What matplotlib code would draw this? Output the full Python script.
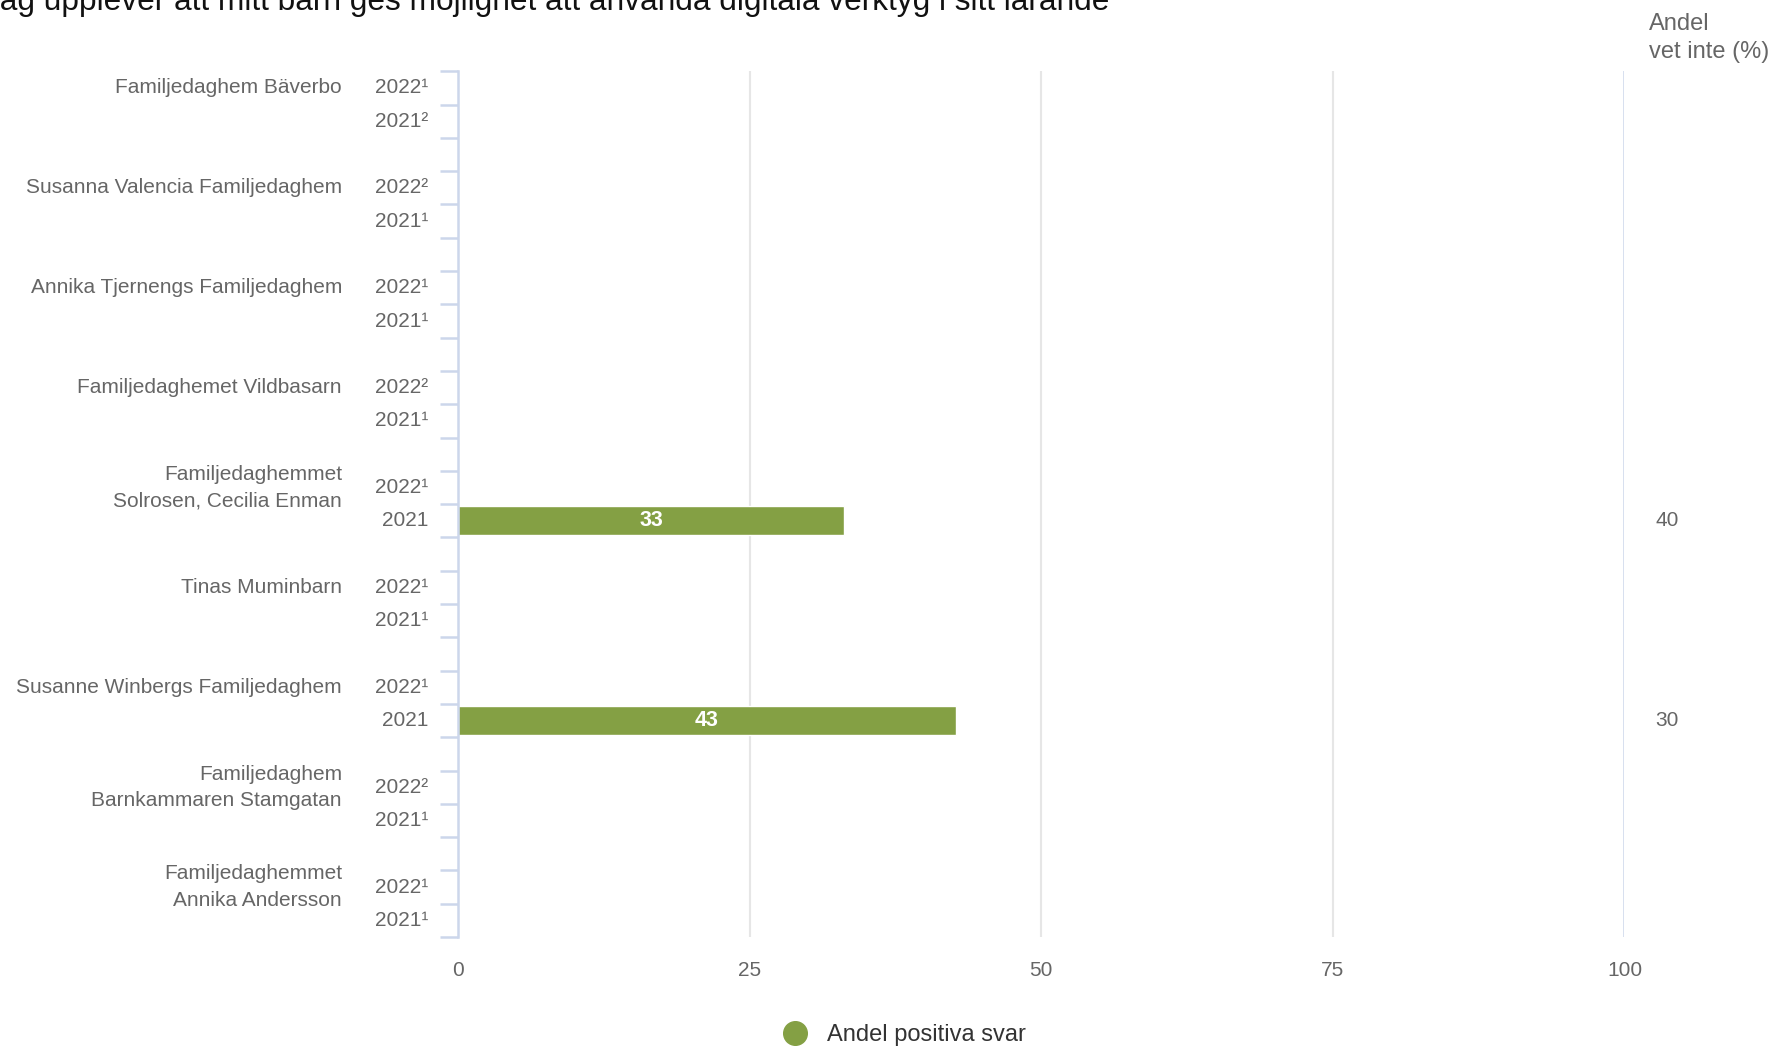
import numpy as np
import matplotlib
matplotlib.use('Agg')
import matplotlib.pyplot as plt
from matplotlib.lines import Line2D

plt.rcParams['font.family'] = ['Liberation Sans', 'DejaVu Sans']

title = 'Jag upplever att mitt barn ges möjlighet att använda digitala verktyg i sitt lärande'
groups = ['Familjedaghem Bäverbo',
          'Susanna Valencia Familjedaghem',
          'Annika Tjernengs Familjedaghem',
          'Familjedaghemet Vildbasarn',
          'Familjedaghemmet\nSolrosen, Cecilia Enman',
          'Tinas Muminbarn',
          'Susanne Winbergs Familjedaghem',
          'Familjedaghem\nBarnkammaren Stamgatan',
          'Familjedaghemmet\nAnnika Andersson']
years_2022 = ['2022¹', '2022²', '2022¹', '2022²', '2022¹', '2022¹', '2022¹', '2022²', '2022¹']
years_2021 = ['2021²', '2021¹', '2021¹', '2021¹', '2021', '2021¹', '2021', '2021¹', '2021¹']
pos_2022 = [np.nan] * 9
pos_2021 = [np.nan, np.nan, np.nan, np.nan, 33.1, np.nan, 42.7, np.nan, np.nan]
vet_2022 = [None] * 9
vet_2021 = [None, None, None, None, 40, None, 30, None, None]
xticks = [0, 25, 50, 75, 100]

green = '#84a044'
gray = '#666666'
axblue = '#ccd6eb'

fig = plt.figure(figsize=(17.75, 10.5), dpi=100)
ax = fig.add_axes([0.258, 0.1076, 0.6572, 0.8245])

n = len(groups)
y22 = np.arange(n) * 3 + 0.5
y21 = y22 + 1
nslots = 3 * n - 1

ax.barh(y22, pos_2022, height=0.86, color=green, edgecolor='white', linewidth=1)
ax.barh(y21, pos_2021, height=0.86, color=green, edgecolor='white', linewidth=1)

for yy, v in zip(np.concatenate([y22, y21]), pos_2022 + pos_2021):
    if not np.isnan(v):
        ax.text(v / 2, yy, f'{v:.0f}', ha='center', va='center', color='white',
                fontsize=15.5, fontweight='bold')

ax.set_xlim(0, 100)
ax.set_ylim(nslots, 0)

for x in [25, 50, 75]:
    ax.axvline(x, color='#e6e6e6', lw=1.5, zorder=0)
ax.axvline(100, color=axblue, lw=1.8, zorder=0)

for s in ['top', 'right', 'bottom']:
    ax.spines[s].set_visible(False)
ax.spines['left'].set_color(axblue)
ax.spines['left'].set_linewidth(1.8)

ax.set_yticks(np.arange(nslots + 1))
ax.set_yticklabels([])
ax.tick_params(axis='y', length=13, width=1.8, color=axblue)
ax.set_xticks(xticks)
ax.set_xticklabels([str(t) for t in xticks])
ax.tick_params(axis='x', length=0, pad=17, labelsize=15, labelcolor=gray)

tr = ax.get_yaxis_transform()
for i in range(n):
    ax.text(-0.0995, y22[i], groups[i], transform=tr, ha='right', va='center',
            fontsize=15, color=gray, linespacing=1.48)
    ax.text(-0.0257, y22[i], years_2022[i], transform=tr, ha='right', va='center',
            fontsize=15, color=gray)
    ax.text(-0.0257, y21[i], years_2021[i], transform=tr, ha='right', va='center',
            fontsize=15, color=gray)
    if vet_2022[i] is not None:
        ax.text(1.0266, y22[i], str(vet_2022[i]), transform=tr, ha='left', va='center',
                fontsize=15, color=gray)
    if vet_2021[i] is not None:
        ax.text(1.0266, y21[i], str(vet_2021[i]), transform=tr, ha='left', va='center',
                fontsize=15, color=gray)

fig.text(1649 / 1775, 1 - 38 / 1050, 'Andel\nvet inte (%)', ha='left', va='center',
         fontsize=17, color=gray, linespacing=1.36)

fig.text(-0.009, 1 - 10 / 1050, title, ha='left', va='baseline', fontsize=22.8, color='#111111')

handle = Line2D([], [], marker='o', ls='', color=green, markersize=17)
fig.legend([handle], ['Andel positiva svar'], loc='center', bbox_to_anchor=(0.5065, 0.0145),
           frameon=False, fontsize=17, labelcolor='#333333', handletextpad=0.35)

fig.savefig('out.png', dpi=100)
